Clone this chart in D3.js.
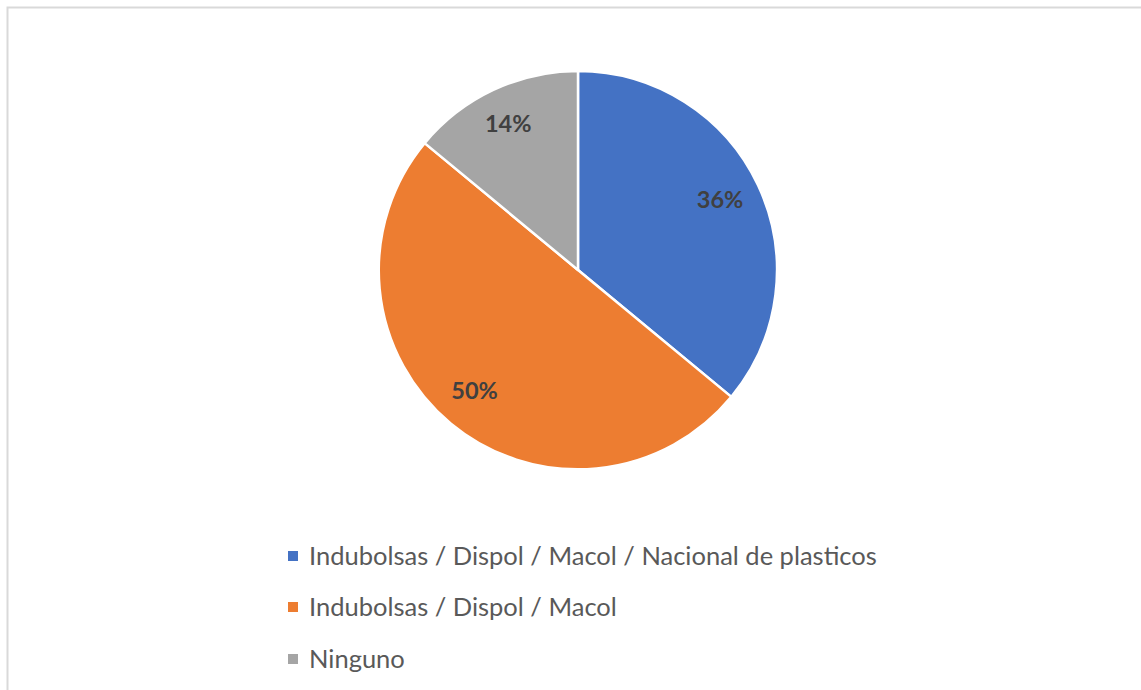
<!DOCTYPE html>
<html><head><meta charset="utf-8">
<script src="https://cdn.jsdelivr.net/npm/d3@7"></script>
<style>html,body{margin:0;padding:0;background:#fff;}svg{display:block;}</style>
</head><body>
<svg id="chart" width="1141" height="690"></svg>
<script>
const categories = ["Indubolsas / Dispol / Macol / Nacional de plasticos", "Indubolsas / Dispol / Macol", "Ninguno"];
const values = [36, 50, 14];
const colors = ["#4472C4", "#ED7D31", "#A5A5A5"];

const svg = d3.select("#chart");
svg.append("rect").attr("x", 7.5).attr("y", 7.5).attr("width", 1160).attr("height", 700)
  .attr("fill", "#fff").attr("stroke", "#d9d9d9").attr("stroke-width", 2);

const cx = 578, cy = 270, r = 199;
const color = d3.scaleOrdinal().domain(categories).range(colors);
const pie = d3.pie().sort(null).value(d => d.v);
const data = categories.map((c, i) => ({c, v: values[i]}));
const arcs = pie(data);
const arc = d3.arc().innerRadius(0).outerRadius(r);
const labelArc = d3.arc().innerRadius(r * 0.8).outerRadius(r * 0.8);
const g = svg.append("g").attr("transform", `translate(${cx},${cy})`);
g.selectAll("path").data(arcs).join("path")
  .attr("d", arc).attr("fill", d => color(d.data.c))
  .attr("stroke", "#fff").attr("stroke-width", 2.5).attr("stroke-linejoin", "round");
g.selectAll("text").data(arcs).join("text")
  .attr("transform", d => { const [x, y] = labelArc.centroid(d); return `translate(${x - 2},${y - 3})`; })
  .attr("text-anchor", "middle").attr("dominant-baseline", "central")
  .attr("font-family", "Lato, 'Open Sans', sans-serif").attr("font-weight", "bold")
  .attr("font-size", 23.5).attr("fill", "#404040")
  .text(d => d.data.v + "%");

const legend = svg.append("g");
const ly = [556, 607, 659];
const items = legend.selectAll("g").data(categories).join("g")
  .attr("transform", (d, i) => `translate(288,${ly[i]})`);
items.append("rect").attr("x", 0).attr("y", -5).attr("width", 10).attr("height", 10)
  .attr("fill", d => color(d));
items.append("text").attr("x", 21).attr("y", -1).attr("dominant-baseline", "central")
  .attr("font-family", "Lato, 'Open Sans', sans-serif").attr("font-size", 25.5).attr("fill", "#595959")
  .text(d => d);
</script>
</body></html>
